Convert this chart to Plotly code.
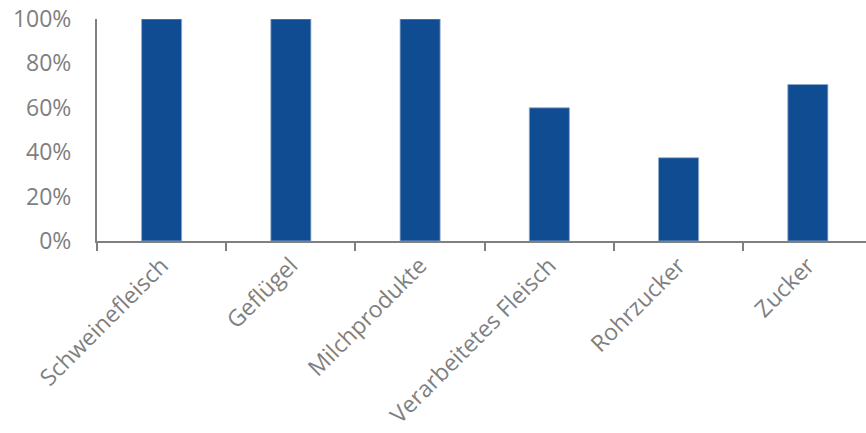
import plotly.graph_objects as go

categories = ["Schweinefleisch", "Geflügel", "Milchprodukte", "Verarbeitetes Fleisch", "Rohrzucker", "Zucker"]
values = [1.00, 1.00, 1.00, 0.60, 0.375, 0.705]
tick_vals = [0, 0.2, 0.4, 0.6, 0.8, 1.0]
tick_text = ["0%", "20%", "40%", "60%", "80%", "100%"]

fig = go.Figure(go.Bar(
    x=categories, y=values,
    marker=dict(color="#104C91", line=dict(color="#8FA9CC", width=0.8)),
    width=0.31,
))

fig.update_layout(
    width=866, height=433,
    margin=dict(l=97, r=0, t=19, b=192),
    plot_bgcolor="white", paper_bgcolor="white",
    showlegend=False,
    font=dict(family="Open Sans", color="#7F7F7F", size=22),
)
fig.update_xaxes(
    range=[-0.5, 5.45],
    showline=True, linecolor="#808080", linewidth=2,
    ticks="outside", tickson="boundaries", ticklen=8, tickcolor="#808080", tickwidth=2,
    tickangle=-45, tickfont=dict(size=23, color="#7F7F7F"),
    showgrid=False,
)
fig.update_yaxes(
    range=[0, 1.0],
    tickvals=tick_vals, ticktext=tick_text,
    showline=True, linecolor="#808080", linewidth=2,
    showgrid=False, zeroline=False, ticks="",
    ticklabelstandoff=19,
    tickfont=dict(size=23, color="#7F7F7F"),
)

fig.write_html("out.html")
